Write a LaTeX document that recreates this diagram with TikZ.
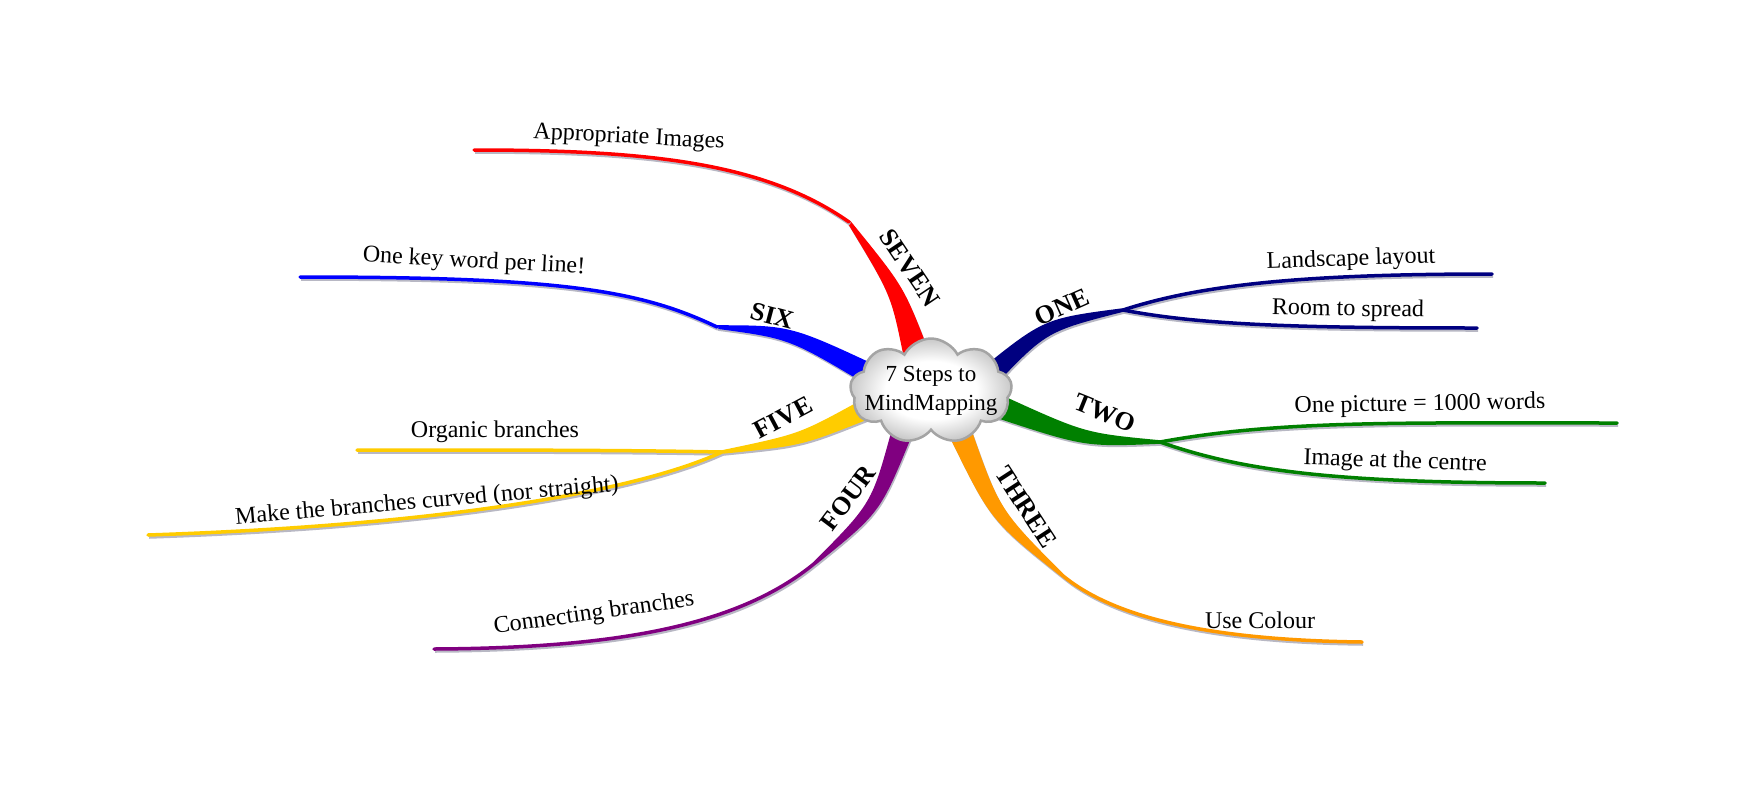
\documentclass[tikz,border=0pt]{standalone}
\usepackage{fontspec}
\setmainfont{Liberation Serif}
\usetikzlibrary{calc,shapes.symbols}
\definecolor{BranchRed}{HTML}{FF0000}
\definecolor{BranchBlue}{HTML}{0000FF}
\definecolor{BranchGold}{HTML}{FFCC00}
\definecolor{BranchPurple}{HTML}{800080}
\definecolor{BranchOrange}{HTML}{FF9900}
\definecolor{BranchGreen}{HTML}{008000}
\definecolor{BranchNavy}{HTML}{000080}
\definecolor{ShadowGrey}{HTML}{B8B8C4}
\definecolor{CloudEdge}{HTML}{A4A4A4}
\definecolor{CloudRim}{HTML}{C8C8C8}
\pgfdeclareradialshading{cloudshade}{\pgfpoint{0bp}{0bp}}{%
	color(0bp)=(white); color(14bp)=(white); color(25bp)=(CloudRim); color(50bp)=(CloudRim)}

% tapered trunk: colour, start, control, tip, half width
\newcommand{\trunk}[5]{%
	\fill[#1, trunk shadow]
	($(#2)!#5!90:(#3)$) .. controls ($(#3)!#5*0.6!90:(#4)$) .. ($(#4)!1.8pt!-90:(#3)$)
	-- ($(#4)!1.8pt!90:(#3)$) .. controls ($(#3)!#5*0.6!-90:(#4)$) .. ($(#2)!#5!-90:(#3)$) -- cycle;}

\begin{document}
\begin{tikzpicture}[
	x=1pt, y=-1pt,
	% central cloud
	hub/.style={
		cloud, cloud puffs=9, cloud puff arc=125, aspect=1.55,
		draw=CloudEdge, line width=2.5pt,
		shade, shading=cloudshade,
		minimum width=162pt, minimum height=105pt,
		inner sep=0pt
	},
	hubtext/.style={
		inner sep=0pt, align=center,
		font=\fontsize{23}{29}\selectfont
	},
	% shadow under the trunks
	trunk shadow/.style={
		preaction={fill=ShadowGrey, transform canvas={shift={(1pt,-2pt)}}}
	},
	% thin end of a branch
	leaf/.style={
		line width=3.5pt, line cap=round,
		preaction={draw=ShadowGrey, line width=3.5pt, transform canvas={shift={(1pt,-2pt)}}}
	},
	% bold number on a trunk
	numlabel/.style={
		inner sep=0pt,
		font=\fontsize{26}{28}\selectfont\bfseries
	},
	% key word on a leaf
	leaftext/.style={
		inner sep=0pt,
		font=\fontsize{24}{28}\selectfont
	}
	]
	
	\fill[white] (0,0) rectangle (1760,795);
	\useasboundingbox (0,0) rectangle (1760,795);
	
	% ================= POINTS =================
	\coordinate (s7) at (915,350); \coordinate (c7) at (897,290); \coordinate (t7) at (849,222);
	\coordinate (s6) at (875,377); \coordinate (c6) at (790,332); \coordinate (t6) at (717,327);
	\coordinate (s5) at (862,411); \coordinate (c5) at (800,440); \coordinate (t5) at (722,452);
	\coordinate (s4) at (902,432); \coordinate (c4) at (876,508); \coordinate (t4) at (815,563);
	\coordinate (s3) at (960,432); \coordinate (c3) at (995,515); \coordinate (t3) at (1062,575);
	\coordinate (s2) at (1000,407); \coordinate (c2) at (1085,440); \coordinate (t2) at (1160,442);
	\coordinate (s1) at (985,380); \coordinate (c1) at (1045,325); \coordinate (t1) at (1123,310);
	
	\coordinate (e7) at (474,150);
	\coordinate (e6) at (300,277);
	\coordinate (e5a) at (357,450);
	\coordinate (e5b) at (148,535);
	\coordinate (e4) at (434,649);
	\coordinate (e3) at (1362,642);
	\coordinate (e2a) at (1617,423);
	\coordinate (e2b) at (1545,483);
	\coordinate (e1a) at (1492,274);
	\coordinate (e1b) at (1477,328);
	
	% ================= TRUNKS =================
	\trunk{BranchRed}{s7}{c7}{t7}{12.5pt}
	\trunk{BranchBlue}{s6}{c6}{t6}{11pt}
	\trunk{BranchGold}{s5}{c5}{t5}{10pt}
	\trunk{BranchPurple}{s4}{c4}{t4}{10.5pt}
	\trunk{BranchOrange}{s3}{c3}{t3}{11.5pt}
	\trunk{BranchGreen}{s2}{c2}{t2}{11.5pt}
	\trunk{BranchNavy}{s1}{c1}{t1}{11pt}
	
	% ================= LEAVES =================
	\draw[leaf, BranchRed] (t7) .. controls (765,163) and (650,150) .. (e7);
	\draw[leaf, BranchBlue] (t6) .. controls (640,290) and (560,277) .. (e6);
	\draw[leaf, BranchGold] (t5) .. controls (620,450) and (500,450) .. (e5a);
	\draw[leaf, BranchGold] (t5) .. controls (640,490) and (450,525) .. (e5b);
	\draw[leaf, BranchPurple] (t4) .. controls (740,625) and (620,648) .. (e4);
	\draw[leaf, BranchOrange] (t3) .. controls (1110,615) and (1200,640) .. (e3);
	\draw[leaf, BranchGreen] (t2) .. controls (1280,420) and (1400,423) .. (e2a);
	\draw[leaf, BranchGreen] (t2) .. controls (1240,470) and (1330,483) .. (e2b);
	\draw[leaf, BranchNavy] (t1) .. controls (1200,285) and (1300,274) .. (e1a);
	\draw[leaf, BranchNavy] (t1) .. controls (1200,325) and (1300,328) .. (e1b);
	
	% ================= CENTRE =================
	\node[hub] (centre) at (931,391) {};
	\node[hubtext] (title) at (centre.center) {7 Steps to\\MindMapping};
	
	% ================= LABELS =================
	\node[numlabel, rotate=-56] (lab7) at (910,268) {SEVEN};
	\node[numlabel, rotate=-15] (lab6) at (772,316) {SIX};
	\node[numlabel, rotate=28] (lab5) at (783,418) {FIVE};
	\node[numlabel, rotate=53] (lab4) at (848,498) {FOUR};
	\node[numlabel, rotate=-57] (lab3) at (1026,507) {THREE};
	\node[numlabel, rotate=-22] (lab2) at (1105,413) {TWO};
	\node[numlabel, rotate=24] (lab1) at (1062,307) {ONE};
	
	\node[leaftext, rotate=-3] (txt7) at (629,138) {Appropriate Images};
	\node[leaftext, rotate=-3] (txt6) at (474,262) {One key word per line!};
	\node[leaftext] (txt5a) at (495,432) {Organic branches};
	\node[leaftext, rotate=5] (txt5b) at (427,502) {Make the branches curved (nor straight)};
	\node[leaftext, rotate=8] (txt4) at (594,614) {Connecting branches};
	\node[leaftext] (txt3) at (1260,620) {Use Colour};
	\node[leaftext, rotate=1] (txt2a) at (1420,405) {One picture = 1000 words};
	\node[leaftext, rotate=-2] (txt2b) at (1395,462) {Image at the centre};
	\node[leaftext, rotate=2] (txt1a) at (1351,260) {Landscape layout};
	\node[leaftext, rotate=-1] (txt1b) at (1348,310) {Room to spread};
	
\end{tikzpicture}
\end{document}
